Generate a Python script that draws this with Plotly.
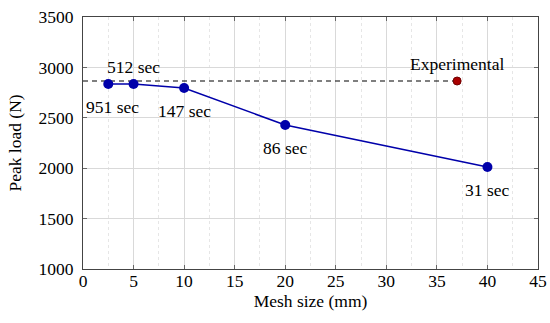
import plotly.graph_objects as go

mesh_size = [2.5, 5, 10, 20, 40]
peak_load = [2835, 2835, 2796, 2429, 2012]
run_time = ["951 sec", "512 sec", "147 sec", "86 sec", "31 sec"]
label_pos = ["below", "above", "below", "below", "below"]
exp_x = [37]
exp_load = [2865]
exp_label = "Experimental"

FONT = "Liberation Serif"
FS = 17.5
fig = go.Figure()

fig.add_trace(go.Scatter(x=[0, exp_x[0]], y=[exp_load[0], exp_load[0]], mode="lines",
                         line=dict(color="black", width=1.1, dash="5px,4px"), showlegend=False))
fig.add_trace(go.Scatter(x=mesh_size, y=peak_load, mode="lines+markers",
                         line=dict(color="#0000aa", width=1.6),
                         marker=dict(color="#0000aa", size=10), showlegend=False))
fig.add_trace(go.Scatter(x=exp_x, y=exp_load, mode="markers",
                         marker=dict(color="#aa0000", size=8, line=dict(color="#700000", width=1)),
                         showlegend=False))

for x, y, t, p in zip(mesh_size, peak_load, run_time, label_pos):
    fig.add_annotation(x=x, y=y, text=t, showarrow=False,
                       yshift=(-23 if p == "below" else 17),
                       xshift=(4 if x == mesh_size[0] else 0),
                       font=dict(family=FONT, size=FS, color="black"))
fig.add_annotation(x=exp_x[0], y=exp_load[0], text=exp_label, showarrow=False, yshift=17,
                   font=dict(family=FONT, size=FS, color="black"))

axis_common = dict(showline=True, linecolor="#444", linewidth=1, mirror="ticks",
                   gridcolor="#d9d9d9", gridwidth=1, zeroline=False, automargin=False,
                   ticks="inside", ticklen=4, tickcolor="#666",
                   tickfont=dict(family=FONT, size=FS, color="black"))
fig.update_xaxes(range=[0, 45], dtick=5, ticklabelstandoff=-4,
                 title=dict(text="Mesh size (mm)", font=dict(family=FONT, size=FS), standoff=4),
                 minor=dict(dtick=2.5, showgrid=True, gridcolor="#e6e6e6", griddash="dot", ticks=""),
                 **axis_common)
fig.update_yaxes(range=[1000, 3500], dtick=500, ticklabelstandoff=5,
                 title=dict(text="Peak load (N)", font=dict(family=FONT, size=FS), standoff=12),
                 **axis_common)
fig.update_layout(width=550, height=323, margin=dict(l=83, r=12, t=17, b=54),
                  plot_bgcolor="white", paper_bgcolor="white",
                  font=dict(family=FONT, size=FS, color="black"))
fig.write_html("out.html", config={"displayModeBar": False},
               post_script="document.body.style.margin='0';")
